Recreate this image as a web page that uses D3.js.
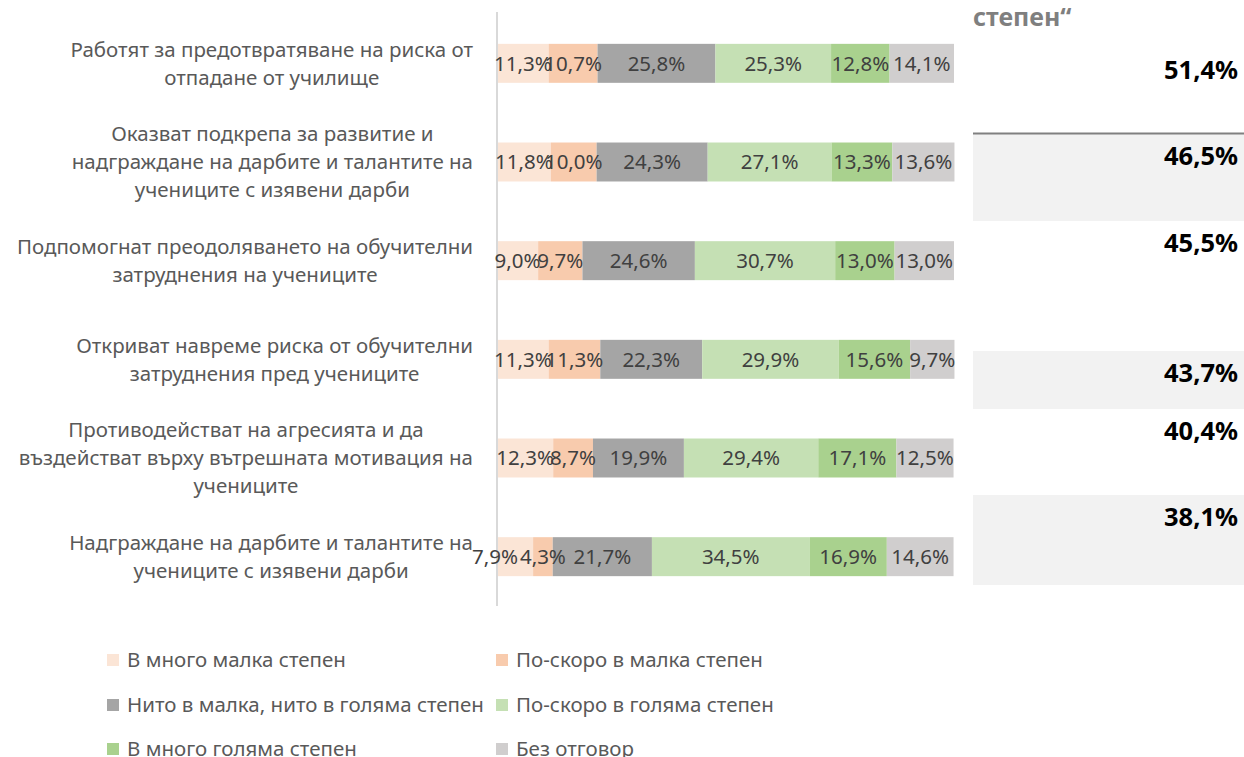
<!DOCTYPE html>
<html>
<head>
<meta charset="utf-8">
<script src="https://cdn.jsdelivr.net/npm/d3@7"></script>
<style>
body { margin: 0; background: #fff; }
svg { display: block; font-family: "Noto Sans", sans-serif; }
</style>
</head>
<body>
<svg id="chart" width="1244" height="757"></svg>
<script>

// Data

var categories = [
	["Работят за предотвратяване на риска от", "отпадане от училище"],
	["Оказват подкрепа за развитие и", "надграждане на дарбите и талантите на", "учениците с изявени дарби"],
	["Подпомогнат преодоляването на обучителни", "затруднения на учениците"],
	["Откриват навреме риска от обучителни", "затруднения пред учениците"],
	["Противодействат на агресията и да", "въздействат върху вътрешната мотивация на", "учениците"],
	["Надграждане на дарбите и талантите на", "учениците с изявени дарби"]
];

var seriesNames = [
	"В много малка степен",
	"По-скоро в малка степен",
	"Нито в малка, нито в голяма степен",
	"По-скоро в голяма степен",
	"В много голяма степен",
	"Без отговор"
];

var veryLow    = [11.3, 11.8,  9.0, 11.3, 12.3,  7.9];
var ratherLow  = [10.7, 10.0,  9.7, 11.3,  8.7,  4.3];
var neither    = [25.8, 24.3, 24.6, 22.3, 19.9, 21.7];
var ratherHigh = [25.3, 27.1, 30.7, 29.9, 29.4, 34.5];
var veryHigh   = [12.8, 13.3, 13.0, 15.6, 17.1, 16.9];
var noAnswer   = [14.1, 13.6, 13.0,  9.7, 12.5, 14.6];

var seriesColors = ["#fbe5d6", "#f8cbad", "#a5a5a5", "#c5e0b4", "#a9d18e", "#d0cece"];

// side table (cells next to the chart)
var tableHeader = "степен“";
var tableValues = ["51,4%", "46,5%", "45,5%", "43,7%", "40,4%", "38,1%"];
var tableShaded = [false, true, false, true, false, true];

// Layout

var svg = d3.select("#chart");

var plotLeft = 497, plotRight = 954;
var plotTop = 14, plotBottom = 606;

var rows = categories.map(function (c, i) {
	return {
		i: i,
		lines: c,
		values: [veryLow[i], ratherLow[i], neither[i], ratherHigh[i], veryHigh[i], noAnswer[i]]
	};
});

var x = d3.scaleLinear().domain([0, 100]).range([plotLeft, plotRight]);

var y = d3.scaleBand()
	.domain(d3.range(rows.length))
	.range([plotTop, plotBottom])
	.paddingInner(0.605)
	.paddingOuter(0.3025);

var stackInput = rows.map(function (r) {
	var o = {i: r.i};
	r.values.forEach(function (v, k) { o[k] = v; });
	return o;
});

var stacked = d3.stack().keys(d3.range(seriesNames.length))(stackInput);

var fmt = function (v) { return v.toFixed(1).replace(".", ",") + "%"; };

// the small first label of the last bar was dragged left in the original
var labelShift = function (row, key) { return (row == 5 && key == 0) ? -20 : 0; };

// Side table

var tableLeft = 973, tableRight = 1244;
var tableEdges = [48, 134, 221, 351, 409, 495, 585];

svg.append("text")
	.attr("x", tableLeft)
	.attr("y", 26)
	.attr("fill", "#7f7f7f")
	.style("font-size", "25px")
	.style("font-weight", "bold")
	.text(tableHeader);

var tableRows = svg.append("g").selectAll("g")
	.data(tableValues)
	.enter().append("g");

tableRows.append("rect")
	.attr("x", tableLeft)
	.attr("width", tableRight - tableLeft)
	.attr("y", function (d, i) { return tableEdges[i]; })
	.attr("height", function (d, i) { return tableEdges[i + 1] - tableEdges[i]; })
	.attr("fill", function (d, i) { return tableShaded[i] ? "#f2f2f2" : "#fff"; });

tableRows.append("text")
	.attr("x", 1238)
	.attr("y", function (d, i) { return tableEdges[i] + 31; })
	.attr("text-anchor", "end")
	.attr("fill", "#000")
	.style("font-size", "25.5px")
	.style("font-weight", "bold")
	.text(function (d) { return d; });

svg.append("line")
	.attr("x1", tableLeft).attr("x2", tableRight)
	.attr("y1", 133.5).attr("y2", 133.5)
	.attr("stroke", "#808080")
	.attr("stroke-width", 2);

// Bars

var layers = svg.append("g").selectAll("g")
	.data(stacked)
	.enter().append("g")
	.attr("fill", function (d) { return seriesColors[d.key]; });

layers.selectAll("rect")
	.data(function (d) { return d; })
	.enter().append("rect")
	.attr("x", function (d) { return x(d[0]); })
	.attr("width", function (d) { return x(d[1]) - x(d[0]); })
	.attr("y", function (d) { return y(d.data.i); })
	.attr("height", y.bandwidth());

// Axis line

svg.append("line")
	.attr("x1", plotLeft).attr("x2", plotLeft)
	.attr("y1", 12).attr("y2", plotBottom)
	.attr("stroke", "#d9d9d9")
	.attr("stroke-width", 2);

// Category labels

var lineHeight = 28;
var labelRight = 473;

var catGroups = svg.append("g").selectAll("g")
	.data(rows)
	.enter().append("g");

catGroups.each(function (r) {
	var g = d3.select(this);
	var cy = y(r.i) + y.bandwidth() / 2;
	var n = r.lines.length;

	var texts = g.selectAll("text")
		.data(r.lines)
		.enter().append("text")
		.attr("y", function (d, k) { return cy + (k - (n - 1) / 2) * lineHeight; })
		.attr("dy", "0.35em")
		.attr("text-anchor", "middle")
		.attr("fill", "#595959")
		.style("font-size", "20.5px")
		.text(function (d) { return d; });

	var maxW = 0;
	texts.each(function () { maxW = Math.max(maxW, this.getComputedTextLength()); });
	texts.attr("x", labelRight - maxW / 2);
});

// Data labels

var labels = svg.append("g").selectAll("g")
	.data(stacked)
	.enter().append("g");

labels.selectAll("text")
	.data(function (s) {
		return s.map(function (d) { return {d: d, k: s.key, v: d.data[s.key]}; });
	})
	.enter().append("text")
	.attr("x", function (e) { return (x(e.d[0]) + x(e.d[1])) / 2 + labelShift(e.d.data.i, e.k); })
	.attr("y", function (e) { return y(e.d.data.i) + y.bandwidth() / 2; })
	.attr("dy", "0.35em")
	.attr("text-anchor", "middle")
	.attr("fill", "#404040")
	.style("font-size", "20.5px")
	.text(function (e) { return fmt(e.v); });

// Legend

var legendCols = [107, 496];
var legendRows = [660, 705, 749];

var legend = svg.append("g").selectAll("g")
	.data(seriesNames)
	.enter().append("g")
	.attr("transform", function (d, i) {
		return "translate(" + legendCols[i % 2] + "," + legendRows[Math.floor(i / 2)] + ")";
	});

legend.append("rect")
	.attr("x", 0)
	.attr("y", -6)
	.attr("width", 12)
	.attr("height", 12)
	.attr("fill", function (d, i) { return seriesColors[i]; });

legend.append("text")
	.attr("x", 20)
	.attr("dy", "0.35em")
	.attr("fill", "#595959")
	.style("font-size", "20.5px")
	.text(function (d) { return d; });

</script>
</body>
</html>
